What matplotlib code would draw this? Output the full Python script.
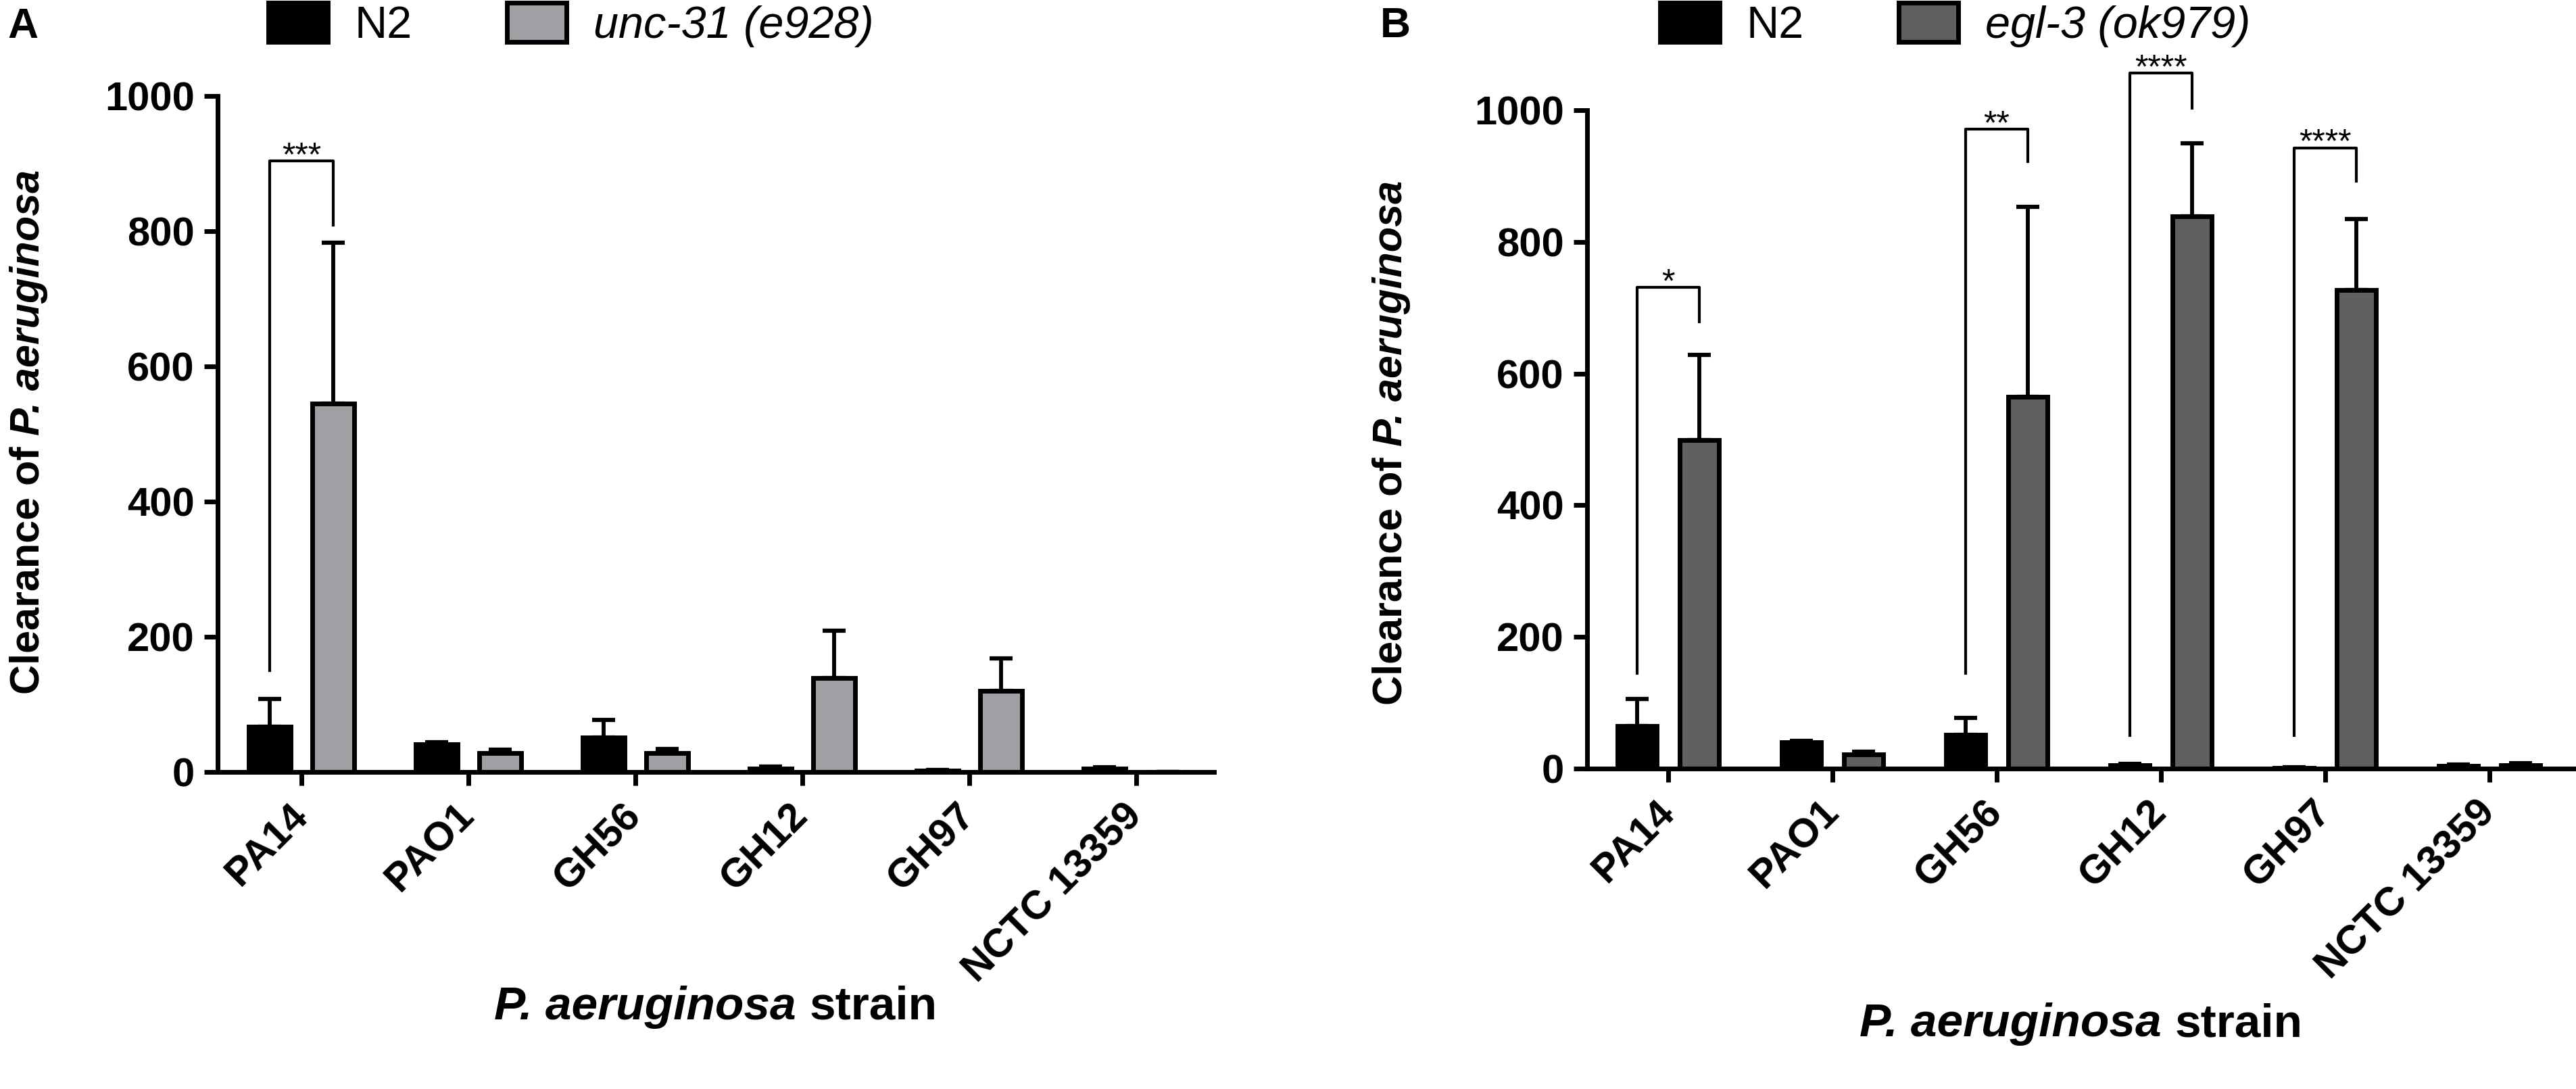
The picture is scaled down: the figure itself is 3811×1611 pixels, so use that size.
import matplotlib
matplotlib.use('Agg')
import matplotlib.pyplot as plt
import numpy as np

plt.rcParams['font.family'] = ['Liberation Sans', 'DejaVu Sans']

W, H = 3812, 1611

strains = ['PA14', 'PAO1', 'GH56', 'GH12', 'GH97', 'NCTC 13359']

# panel A
n2_a_mean = [67, 41, 51, 5, 2, 5]
n2_a_sd = [41, 3, 26, 3, 1, 2]
unc31_mean = [545, 28, 28, 139, 120, 0]
unc31_sd = [238, 5, 6, 70, 48, 0]

# panel B
n2_b_mean = [65, 40, 51, 5, 1, 4]
n2_b_sd = [41, 2, 26, 2, 1, 2]
egl3_mean = [499, 22, 565, 839, 727, 5]
egl3_sd = [129, 4, 288, 111, 108, 3]

# significance brackets: (group, left leg bottom, right leg bottom, top, label)
sig_a = [(0, 150, 809, 904, '***')]
sig_b = [(0, 145, 679, 731, '*'),
         (2, 145, 922, 971, '**'),
         (3, 50, 1003, 1056, '****'),
         (4, 50, 892, 943, '****')]

yticks = [0, 200, 400, 600, 800, 1000]

fig = plt.figure(figsize=(W / 100, H / 100), dpi=100)


def px(x, y):
    return x / W, 1 - y / H


def panel(rect, xlim, mut_mean, mut_sd, n2_mean, n2_sd, color, mut_name,
          sigs, bw, off):
    ax = fig.add_axes(rect)
    x = np.arange(len(strains))
    for mean, sd, xs in [(n2_mean, n2_sd, x - off), (mut_mean, mut_sd, x + off)]:
        ax.errorbar(xs, mean, yerr=[np.zeros(len(sd)), sd], fmt='none',
                    ecolor='black', elinewidth=4.2, capsize=12, capthick=4.5,
                    zorder=1)
    b1 = ax.bar(x - off, n2_mean, bw, color='black', edgecolor='black',
                linewidth=5, zorder=2, label='N2')
    b2 = ax.bar(x + off, mut_mean, bw, color=color, edgecolor='black',
                linewidth=5, zorder=2, label=mut_name)
    for g, lb, rb, top, lab in sigs:
        xl, xr = g - off, g + off
        ax.plot([xl, xl, xr, xr], [lb, top, top, rb], color='black', lw=3,
                clip_on=False, zorder=3)
        ax.annotate(lab, (g, top), xytext=(0, -5), textcoords='offset points',
                    ha='center', va='baseline', fontsize=36,
                    annotation_clip=False)
    ax.set_xlim(*xlim)
    ax.set_ylim(0, 1000)
    ax.set_yticks(yticks)
    ax.set_xticks(x)
    ax.set_xticklabels(strains, rotation=45, ha='right', va='center',
                       rotation_mode='anchor')
    for s in ['top', 'right']:
        ax.spines[s].set_visible(False)
    for s in ['left', 'bottom']:
        ax.spines[s].set_linewidth(5)
    ax.tick_params(direction='out', length=14.5, width=5, pad=10,
                   labelsize=43)
    ax.tick_params(axis='x', pad=26)
    for t in ax.get_xticklabels() + ax.get_yticklabels():
        t.set_fontweight('bold')
    return ax, b1, b2


axA, a1, a2 = panel([322 / W, 1 - 1142 / H, (1796 - 322) / W, 1000 / H],
                    (-0.502, 5.466), unc31_mean, unc31_sd, n2_a_mean, n2_a_sd,
                    '#a0a0a4', 'unc-31 (e928)', sig_a, 0.25, 0.19)
axB, bb1, bb2 = panel([2348 / W, 1 - 1137 / H, (3810 - 2348) / W, 974 / H],
                      (-0.494, 5.523), egl3_mean, egl3_sd, n2_b_mean, n2_b_sd,
                      '#606060', 'egl-3 (ok979)', sig_b, 0.24, 0.19)

for ax, handles, x0 in [(axA, [a1, a2], 397), (axB, [bb1, bb2], 2456)]:
    leg = ax.legend(handles=handles, loc='upper left',
                    bbox_to_anchor=px(x0, 4), bbox_transform=fig.transFigure,
                    ncol=2, frameon=False, fontsize=48, borderpad=0,
                    borderaxespad=0, handlelength=1.32, handleheight=0.95,
                    handletextpad=0.6, columnspacing=2.1)
    leg.get_texts()[1].set_fontstyle('italic')

fig.text(*px(11, 10), 'A', fontsize=45, fontweight='bold', ha='left', va='top')
fig.text(*px(2042, 9), 'B', fontsize=45, fontweight='bold', ha='left', va='top')

renderer = fig.canvas.get_renderer()


def mixed(xc, yc, parts, size, rotation=0):
    gap = 0.28 * size * 100 / 72
    texts = []
    for s, style in parts:
        t = fig.text(0, 0, s, fontsize=size, fontweight='bold', fontstyle=style,
                     ha='left', va='baseline', rotation=rotation,
                     rotation_mode='anchor')
        texts.append(t)
    sizes = []
    for t in texts:
        bb = t.get_window_extent(renderer)
        sizes.append(bb.width if rotation == 0 else bb.height)
    total = sum(sizes) + gap * (len(sizes) - 1)
    pos = 0
    for t, w in zip(texts, sizes):
        if rotation == 0:
            t.set_position(px(xc - total / 2 + pos, yc))
        else:
            t.set_position(px(xc, yc + total / 2 - pos))
        pos += w + gap


xl_parts = [('P. aeruginosa', 'italic'), ('strain', 'normal')]
yl_parts = [('Clearance of', 'normal'), ('P. aeruginosa', 'italic')]
mixed(1059, 1508, xl_parts, 50)
mixed(3079, 1533, xl_parts, 50)
mixed(58, 639, yl_parts, 44, rotation=90)
mixed(2074, 655, yl_parts, 44, rotation=90)

fig.savefig('out.png', dpi=100)
